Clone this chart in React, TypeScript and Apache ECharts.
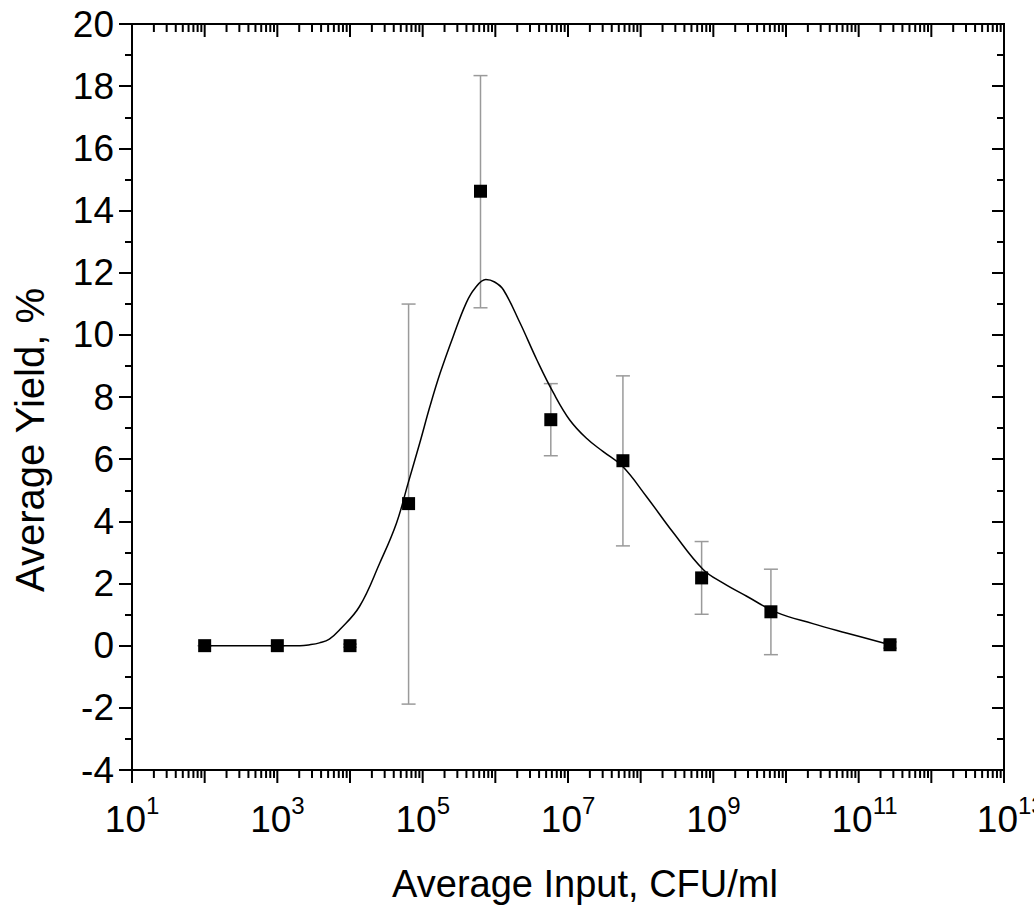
import React, { useEffect, useRef } from "react";
import * as echarts from "echarts";

// ---- data ----
const inputCFU = [1e2, 1e3, 1e4, 6.4e4, 6.25e5, 5.8e6, 5.7e7, 6.9e8, 6.2e9, 2.7e11];
const yieldPct = [0, 0, 0, 4.57, 14.62, 7.27, 5.95, 2.18, 1.09, 0.03];
const yieldLow = [0, 0, -0.05, -1.88, 10.87, 6.11, 3.21, 1.01, -0.29, -0.08];
const yieldHigh = [0, 0, 0.05, 10.99, 18.34, 8.43, 8.68, 3.35, 2.46, 0.12];

// fitted curve
const fitX = [
  1e2, 4.2e2, 1.48e3, 2.05e3, 2.8e3, 3.8e3, 5.2e3, 7.2e3, 1.35e4, 2.57e4,
  4.37e4, 6.31e4, 9.12e4, 1.26e5, 1.74e5, 2.63e5, 3.98e5, 5.25e5, 7.41e5, 9.77e5,
  1.29e6, 2.19e6, 3.72e6, 6.31e6, 1.05e7, 1.78e7, 3.02e7, 5.62e7, 1.2e8, 2.82e8,
  7.24e8, 1.35e9, 2.88e9, 7.41e9, 2.34e10, 6.76e10, 2.69e11,
];
const fitY = [
  0, 0, 0, 0.0, 0.03, 0.09, 0.21, 0.51, 1.26, 2.66,
  3.95, 5.23, 6.52, 7.7, 8.77, 9.95, 11.03, 11.5, 11.78, 11.7,
  11.45, 10.38, 9.2, 8.13, 7.27, 6.68, 6.25, 5.77, 4.8, 3.63,
  2.45, 2.02, 1.59, 1.07, 0.71, 0.41, 0.03,
];

const xDecades = [1e1, 1e2, 1e3, 1e4, 1e5, 1e6, 1e7, 1e8, 1e9, 1e10, 1e11, 1e12, 1e13];
const xMinorMultipliers = [2, 3, 4, 5, 6, 7, 8, 9];
const xLabelExponents = [1, 3, 5, 7, 9, 11, 13];

const X_MIN = 1e1;
const X_MAX = 1e13;
const Y_MIN = -4;
const Y_MAX = 20;

const xTitle = "Average Input, CFU/ml";
const yTitle = "Average Yield, %";

const FONT = '"Liberation Sans", Arial, sans-serif';

export default function App() {
  const ref = useRef<HTMLDivElement>(null);

  useEffect(() => {
    if (!ref.current) return;
    const chart = echarts.init(ref.current, undefined, { renderer: "svg" });

    const tickData: number[][] = [];
    xDecades.forEach((d, i) => {
      tickData.push([d, Y_MIN, 1]);
      if (i < xDecades.length - 1) {
        xMinorMultipliers.forEach((k) => tickData.push([k * d, Y_MIN, 0]));
      }
    });
    const labelData = xLabelExponents.map((e) => [Math.pow(10, e), Y_MIN, e]);

    const scatterData = inputCFU.map((x, i) => [x, yieldPct[i]]);
    const errData = inputCFU.map((x, i) => [x, yieldLow[i], yieldHigh[i]]);
    const fitData = fitX.map((x, i) => [x, fitY[i]]);

    const yAxisCommon = {
      type: "value",
      min: Y_MIN,
      max: Y_MAX,
      interval: 2,
      axisLine: { show: false },
      splitLine: { show: false },
      minorSplitLine: { show: false },
    };

    chart.setOption({
      animation: false,
      backgroundColor: "#fff",
      grid: {
        left: 132,
        right: 30,
        top: 24,
        bottom: 143,
        show: true,
        borderColor: "#000",
        borderWidth: 2,
        backgroundColor: "transparent",
      },
      xAxis: [
        {
          type: "log",
          logBase: 10,
          min: X_MIN,
          max: X_MAX,
          axisLine: { show: false },
          axisTick: { show: false },
          axisLabel: { show: false },
          splitLine: { show: false },
        },
      ],
      yAxis: [
        {
          ...yAxisCommon,
          position: "left",
          axisTick: { show: true, length: 13, lineStyle: { color: "#000", width: 2 } },
          minorTick: { show: true, splitNumber: 2, length: 7, lineStyle: { color: "#000", width: 2 } },
          axisLabel: { show: true, fontSize: 37, color: "#000", fontFamily: FONT, margin: 18 },
        },
        {
          ...yAxisCommon,
          position: "right",
          axisTick: { show: true, inside: true, length: 12, lineStyle: { color: "#000", width: 2 } },
          minorTick: { show: true, splitNumber: 2, length: 7, lineStyle: { color: "#000", width: 2 } },
          axisLabel: { show: false },
        },
      ],
      graphic: [
        {
          type: "text",
          x: 585,
          y: 884,
          style: {
            text: xTitle,
            font: `38px ${FONT}`,
            fill: "#000",
            align: "center",
            verticalAlign: "middle",
          },
        },
        {
          type: "text",
          x: 30,
          y: 440,
          rotation: Math.PI / 2,
          style: {
            text: yTitle,
            font: `40px ${FONT}`,
            fill: "#000",
            align: "center",
            verticalAlign: "middle",
          },
        },
      ],
      series: [
        {
          type: "custom",
          name: "xticks",
          clip: false,
          silent: true,
          z: 5,
          data: tickData,
          encode: { x: 0, y: 1 },
          renderItem: (params: any, api: any) => {
            const v = api.value(0);
            const major = api.value(2) === 1;
            const b = api.coord([v, Y_MIN]);
            const t = api.coord([v, Y_MAX]);
            const len = major ? 13 : 8;
            const style = { stroke: "#000", lineWidth: 2 };
            return {
              type: "group",
              children: [
                { type: "line", shape: { x1: b[0], y1: b[1], x2: b[0], y2: b[1] + len }, style },
                { type: "line", shape: { x1: t[0], y1: t[1], x2: t[0], y2: t[1] + len }, style },
              ],
            };
          },
        },
        {
          type: "custom",
          name: "xlabels",
          clip: false,
          silent: true,
          z: 5,
          data: labelData,
          encode: { x: 0, y: 1 },
          renderItem: (params: any, api: any) => {
            const v = api.value(0);
            const e = api.value(2);
            const p = api.coord([v, Y_MIN]);
            return {
              type: "group",
              children: [
                {
                  type: "text",
                  x: p[0] + 14,
                  y: p[1] + 49,
                  style: {
                    text: "10",
                    font: `37px ${FONT}`,
                    fill: "#000",
                    align: "right",
                    verticalAlign: "middle",
                  },
                },
                {
                  type: "text",
                  x: p[0] + 14,
                  y: p[1] + 35,
                  style: {
                    text: String(e),
                    font: `24px ${FONT}`,
                    fill: "#000",
                    align: "left",
                    verticalAlign: "middle",
                  },
                },
              ],
            };
          },
        },
        {
          type: "custom",
          name: "errors",
          clip: false,
          silent: true,
          z: 2,
          data: errData,
          encode: { x: 0, y: [1, 2] },
          renderItem: (params: any, api: any) => {
            const x = api.value(0);
            const lo = api.coord([x, api.value(1)]);
            const hi = api.coord([x, api.value(2)]);
            const hw = 7;
            const style = { stroke: "#9a9a9a", lineWidth: 1.5 };
            return {
              type: "group",
              children: [
                { type: "line", shape: { x1: lo[0], y1: lo[1], x2: hi[0], y2: hi[1] }, style },
                { type: "line", shape: { x1: lo[0] - hw, y1: lo[1], x2: lo[0] + hw, y2: lo[1] }, style },
                { type: "line", shape: { x1: hi[0] - hw, y1: hi[1], x2: hi[0] + hw, y2: hi[1] }, style },
              ],
            };
          },
        },
        {
          type: "line",
          name: "fit",
          data: fitData,
          smooth: 0.4,
          showSymbol: false,
          symbol: "none",
          z: 3,
          lineStyle: { color: "#000", width: 1.5 },
          silent: true,
        },
        {
          type: "scatter",
          name: "Average Yield",
          data: scatterData,
          symbol: "rect",
          symbolSize: 13,
          z: 4,
          itemStyle: { color: "#000", opacity: 1 },
        },
      ],
    });

    return () => chart.dispose();
  }, []);

  return (
    <div
      ref={ref}
      style={{ position: "absolute", left: 0, top: 0, width: 1034, height: 913 }}
    />
  );
}
